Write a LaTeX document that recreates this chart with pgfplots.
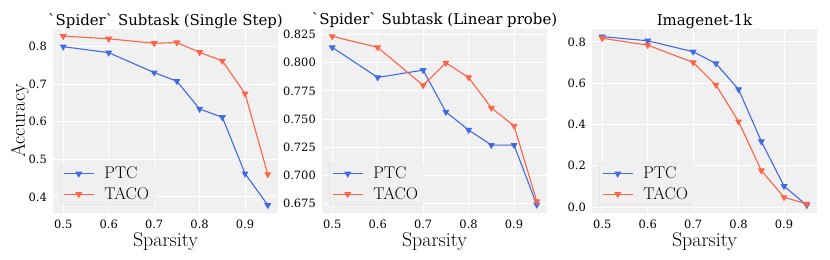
\documentclass[border=0pt]{standalone}
\usepackage{fontspec}
\usepackage{pgfplots}
\pgfplotsset{compat=1.18}
\newfontfamily\dejavu{DejaVu Serif}
\definecolor{bgc}{RGB}{240,240,240}
\definecolor{ptc}{RGB}{65,105,225}
\definecolor{taco}{RGB}{255,99,71}
\pgfplotsset{
  myax/.style={
    scale only axis, width=225bp, height=184bp, anchor=south west,
    axis background/.style={fill=bgc},
    axis line style={draw=none},
    grid=major, major grid style={white, line width=1bp},
    major tick length=0pt, tick style={draw=none},
    /pgf/number format/assume math mode=true,
    tick label style={font=\dejavu\fontsize{11.5}{13}\selectfont, inner sep=0pt},
    xticklabel style={yshift=-7bp},
    yticklabel style={xshift=-6bp},
    xmin=0.4775, xmax=0.9725,
    xtick={0.5,0.6,0.7,0.8,0.9},
    xticklabel style={/pgf/number format/.cd, fixed, precision=1, zerofill},
    every axis title/.style={at={(axis description cs:0.5,1)}, anchor=base, yshift=4bp, font=\dejavu\fontsize{15}{17}\selectfont},
    every axis x label/.style={at={(axis description cs:0.5,0)}, anchor=base, yshift=-33bp, inner sep=0pt, font=\fontsize{20}{22}\selectfont},
    every axis y label/.style={at={(axis description cs:0,0.5)}, xshift=-28bp, rotate=90, anchor=base, inner sep=0pt, font=\fontsize{20}{22}\selectfont},
    xlabel={Sparsity},
    legend cell align=left,
    legend style={font=\fontsize{17}{19}\selectfont, fill=bgc, draw=black!15, rounded corners=2bp,
      row sep=3bp,
      at={(axis description cs:0,0)}, anchor=south west, xshift=7bp, yshift=8bp},
    legend image code/.code={\draw[mark repeat=2,mark phase=2,##1] plot coordinates {(0bp,0bp) (15bp,0bp) (30bp,0bp)};\path (38bp,0bp);},
  },
  ptcs/.style={color=ptc, line width=1.1bp, mark=triangle*, mark size=3bp, mark options={rotate=180}},
  tacos/.style={color=taco, line width=1.1bp, mark=triangle*, mark size=3bp, mark options={rotate=180}},
}
\begin{document}
\begin{tikzpicture}
\path[use as bounding box] (0,0) rectangle (830bp,260bp);
\begin{axis}[myax, at={(53bp,47bp)},
  title={`Spider` Subtask (Single Step)},
  ylabel={Accuracy},
  ymin=0.357, ymax=0.847,
  ytick={0.4,0.5,0.6,0.7,0.8},
  yticklabel style={/pgf/number format/.cd, fixed, precision=1, zerofill}]
\addplot[ptcs] coordinates {(0.5,0.800) (0.6,0.784) (0.7,0.731) (0.75,0.708) (0.8,0.634) (0.85,0.612) (0.9,0.462) (0.95,0.378)};
\addplot[tacos] coordinates {(0.5,0.828) (0.6,0.821) (0.7,0.809) (0.75,0.811) (0.8,0.785) (0.85,0.762) (0.9,0.675) (0.95,0.460)};
\legend{PTC,TACO}
\end{axis}
\begin{axis}[myax, at={(322bp,47bp)},
  title={`Spider` Subtask (Linear probe)},
  ymin=0.6667, ymax=0.830,
  ytick={0.675,0.700,0.725,0.750,0.775,0.800,0.825},
  yticklabel style={/pgf/number format/.cd, fixed, precision=3, zerofill}]
\addplot[ptcs] coordinates {(0.5,0.8137) (0.6,0.787) (0.7,0.7935) (0.75,0.7564) (0.8,0.7404) (0.85,0.727) (0.9,0.727) (0.95,0.674)};
\addplot[tacos] coordinates {(0.5,0.8235) (0.6,0.8137) (0.7,0.780) (0.75,0.800) (0.8,0.787) (0.85,0.760) (0.9,0.744) (0.95,0.677)};
\legend{PTC,TACO}
\end{axis}
\begin{axis}[myax, at={(592bp,47bp)},
  title={Imagenet-1k},
  ymin=-0.029, ymax=0.863,
  ytick={0,0.2,0.4,0.6,0.8},
  yticklabel style={/pgf/number format/.cd, fixed, precision=1, zerofill}]
\addplot[ptcs] coordinates {(0.5,0.826) (0.6,0.806) (0.7,0.753) (0.75,0.696) (0.8,0.570) (0.85,0.318) (0.9,0.101) (0.95,0.008)};
\addplot[tacos] coordinates {(0.5,0.818) (0.6,0.785) (0.7,0.701) (0.75,0.592) (0.8,0.414) (0.85,0.177) (0.9,0.047) (0.95,0.015)};
\legend{PTC,TACO}
\end{axis}
\end{tikzpicture}
\end{document}
